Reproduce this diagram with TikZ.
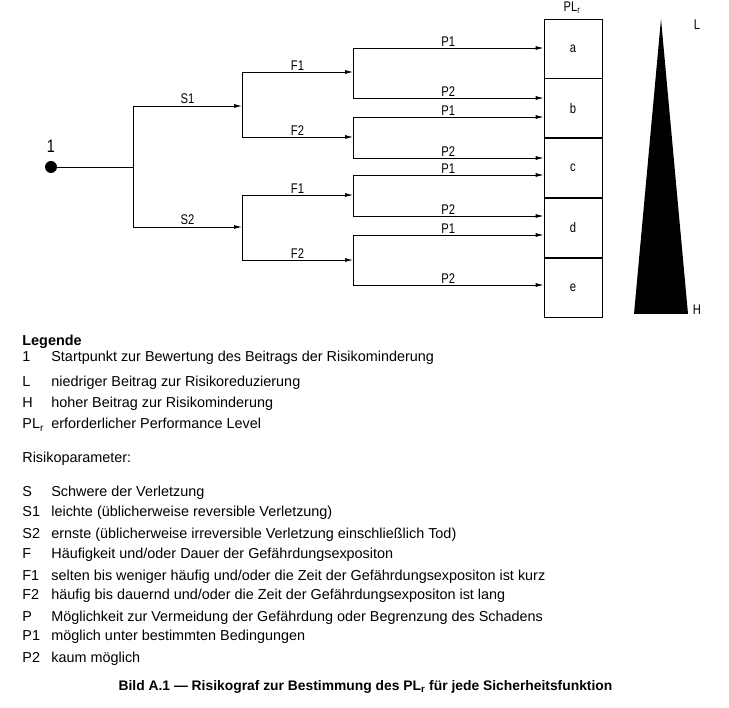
\documentclass[tikz,border=0pt]{standalone}
\usepackage{fontspec}
\setmainfont{Liberation Sans}
\newfontfamily\isofont[FakeStretch=0.8]{Liberation Sans}
\usetikzlibrary{arrows.meta,positioning}
\newcommand{\lkey}[1]{\makebox[29pt][l]{#1}}

\begin{document}
\begin{tikzpicture}[x=1pt,y=-1pt,line width=0.8pt,>={Latex[length=8pt,width=4pt]},
    iso/.style={font=\isofont\fontsize{14}{14}\selectfont,inner sep=1.5pt},
    cell/.style={draw,minimum width=58pt,minimum height=59pt,inner sep=0pt,font=\isofont\fontsize{14}{14}\selectfont},
    legend/.style={anchor=base west,inner sep=0pt,font=\fontsize{14.4}{16}\selectfont}]
   \useasboundingbox (0,0) rectangle (729,708);

   \node[circle,fill,inner sep=0pt,minimum size=12pt] (0) at (51,167) {};
   \node[iso,font=\isofont\fontsize{18}{18}\selectfont] (1) at (51,146) {1};

   \node[cell] (a) at (573,48.5) {a};
   \node[cell] (b) [below=0pt of a] {b};
   \node[cell] (c) [below=0pt of b] {c};
   \node[cell] (d) [below=0pt of c] {d};
   \node[cell] (e) [below=0pt of d] {e};
   \node[iso] (plr) at (572,8) {PL\textsubscript{r}};

   \coordinate (s) at (133,167);
   \coordinate (s1) at (133,106);
   \coordinate (s2) at (133,227);
   \coordinate (fa) at (242,106);
   \coordinate (fa1) at (242,72);
   \coordinate (fa2) at (242,137);
   \coordinate (fb) at (242,227);
   \coordinate (fb1) at (242,195);
   \coordinate (fb2) at (242,260);
   \coordinate (pa1) at (353,48);
   \coordinate (pa2) at (353,98);
   \coordinate (pb1) at (353,117);
   \coordinate (pb2) at (353,158);
   \coordinate (pc1) at (353,175);
   \coordinate (pc2) at (353,216);
   \coordinate (pd1) at (353,235);
   \coordinate (pd2) at (353,285);

   \draw (0) -- (s);
   \draw (s1) -- (s2);
   \path[->] (s1) edge node[iso,above] {S1} (fa);
   \path[->] (s2) edge node[iso,above] {S2} (fb);

   \draw (fa1) -- (fa2);
   \draw (fb1) -- (fb2);
   \path[->] (fa1) edge node[iso,above] {F1} (pa1 |- fa1);
   \path[->] (fa2) edge node[iso,above] {F2} (pb1 |- fa2);
   \path[->] (fb1) edge node[iso,above] {F1} (pc1 |- fb1);
   \path[->] (fb2) edge node[iso,above] {F2} (pd1 |- fb2);

   \draw (pa1) -- (pa2);
   \draw (pb1) -- (pb2);
   \draw (pc1) -- (pc2);
   \draw (pd1) -- (pd2);
   \path[->] (pa1) edge node[iso,above] {P1} (pa1 -| a.west);
   \path[->] (pa2) edge node[iso,above] {P2} (pa2 -| a.west);
   \path[->] (pb1) edge node[iso,above] {P1} (pb1 -| a.west);
   \path[->] (pb2) edge node[iso,above] {P2} (pb2 -| a.west);
   \path[->] (pc1) edge node[iso,above] {P1} (pc1 -| a.west);
   \path[->] (pc2) edge node[iso,above] {P2} (pc2 -| a.west);
   \path[->] (pd1) edge node[iso,above] {P1} (pd1 -| a.west);
   \path[->] (pd2) edge node[iso,above] {P2} (pd2 -| a.west);

   % L to H wedge
   \fill (661,19) -- (688,314) -- (634,314) -- cycle;
   \node[iso] (L) at (697,25) {L};
   \node[iso] (H) at (697,310) {H};

   % legend
   \node[legend,font=\bfseries\fontsize{14.4}{16}\selectfont] (leg) at (22,346) {Legende};
   \node[legend] (l1) at (22,362) {\lkey{1}Startpunkt zur Bewertung des Beitrags der Risikominderung};
   \node[legend] (lL) at (22,387) {\lkey{L}niedriger Beitrag zur Risikoreduzierung};
   \node[legend] (lH) at (22,408) {\lkey{H}hoher Beitrag zur Risikominderung};
   \node[legend] (lPL) at (22,429) {\lkey{PL\textsubscript{r}}erforderlicher Performance Level};
   \node[legend] (rp) at (22,463) {Risikoparameter:};
   \node[legend] (lS) at (22,497) {\lkey{S}Schwere der Verletzung};
   \node[legend] (lS1) at (22,517) {\lkey{S1}leichte (üblicherweise reversible Verletzung)};
   \node[legend] (lS2) at (22,539) {\lkey{S2}ernste (üblicherweise irreversible Verletzung einschließlich Tod)};
   \node[legend] (lF) at (22,559) {\lkey{F}Häufigkeit und/oder Dauer der Gefährdungsexpositon};
   \node[legend] (lF1) at (22,580) {\lkey{F1}selten bis weniger häufig und/oder die Zeit der Gefährdungsexpositon ist kurz};
   \node[legend] (lF2) at (22,600) {\lkey{F2}häufig bis dauernd und/oder die Zeit der Gefährdungsexpositon ist lang};
   \node[legend] (lP) at (22,621) {\lkey{P}Möglichkeit zur Vermeidung der Gefährdung oder Begrenzung des Schadens};
   \node[legend] (lP1) at (22,641) {\lkey{P1}möglich unter bestimmten Bedingungen};
   \node[legend] (lP2) at (22,662) {\lkey{P2}kaum möglich};

   \node[anchor=base,inner sep=0pt,font=\bfseries\fontsize{13.85}{16}\selectfont] (cap) at (365.5,690)
      {Bild A.1 — Risikograf zur Bestimmung des PL\textsubscript{r} für jede Sicherheitsfunktion};
\end{tikzpicture}
\end{document}
